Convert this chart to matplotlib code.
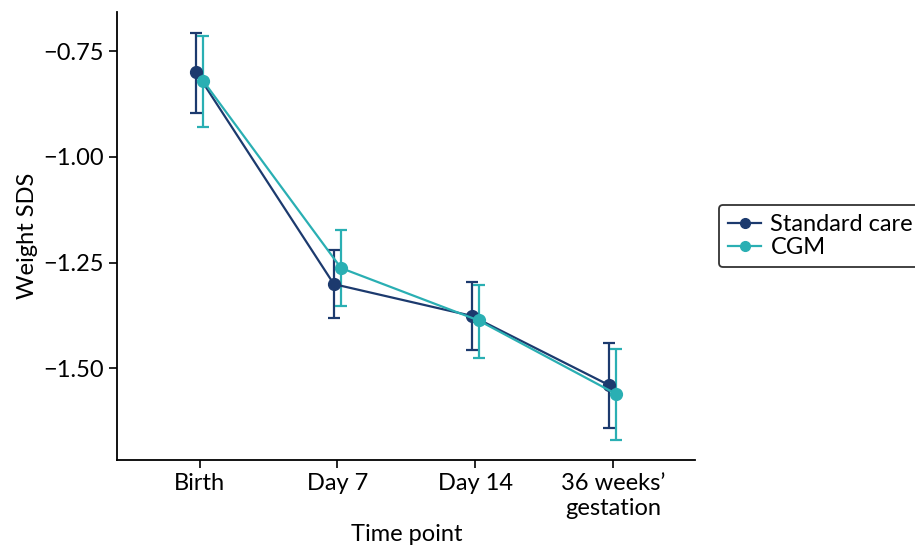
import matplotlib
matplotlib.use("Agg")
import matplotlib.pyplot as plt
from matplotlib.lines import Line2D
import numpy as np

plt.rcParams['font.family'] = ['Lato', 'DejaVu Sans']

categories = ["Birth", "Day 7", "Day 14", "36 weeks’\ngestation"]
sc_mean = [-0.800, -1.301, -1.376, -1.540]
sc_low = [-0.897, -1.381, -1.457, -1.641]
sc_high = [-0.707, -1.220, -1.296, -1.440]
cgm_mean = [-0.821, -1.263, -1.387, -1.561]
cgm_low = [-0.929, -1.353, -1.476, -1.669]
cgm_high = [-0.714, -1.174, -1.303, -1.454]

sc_color = "#1c3a6e"
cgm_color = "#2aafb3"
FS = 17

fig = plt.figure(figsize=(9.15, 5.51), dpi=100)
ax = fig.add_axes([0.128, 0.165, 0.632, 0.813])

x = np.arange(len(categories))
dodge = 0.026
handles = []
for mean, lo, hi, col, lab, off in [
    (sc_mean, sc_low, sc_high, sc_color, "Standard care", -dodge),
    (cgm_mean, cgm_low, cgm_high, cgm_color, "CGM", dodge),
]:
    mean = np.array(mean); lo = np.array(lo); hi = np.array(hi)
    ax.errorbar(x + off, mean, yerr=[mean - lo, hi - mean], color=col,
                marker='o', markersize=8.5, linewidth=1.6, elinewidth=1.6,
                capsize=4, capthick=1.6)
    handles.append(Line2D([], [], color=col, marker='o', markersize=7,
                          linewidth=1.6, label=lab))

ax.set_xlim(-0.6, 3.6)
ax.set_ylim(-1.717, -0.658)
ax.set_yticks([-0.75, -1.00, -1.25, -1.50])
ax.set_yticklabels(["\u22120.75", "\u22121.00", "\u22121.25", "\u22121.50"])
ax.set_xticks(x)
ax.set_xticklabels(categories)
ax.tick_params(labelsize=FS, length=6, width=1.2, color='black')
ax.spines['top'].set_visible(False)
ax.spines['right'].set_visible(False)
for s in ['left', 'bottom']:
    ax.spines[s].set_linewidth(1.3)
ax.set_xlabel("Time point", fontsize=FS)
ax.set_ylabel("Weight SDS", fontsize=FS)

leg = ax.legend(handles=handles, loc='center left', bbox_to_anchor=(1.04, 0.5),
                fontsize=FS, frameon=True, fancybox=True, edgecolor='black',
                handlelength=1.4, borderpad=0.4, labelspacing=0.08,
                handletextpad=0.4, borderaxespad=0)
leg.get_frame().set_linewidth(1.3)

fig.savefig("out.png", dpi=100)
